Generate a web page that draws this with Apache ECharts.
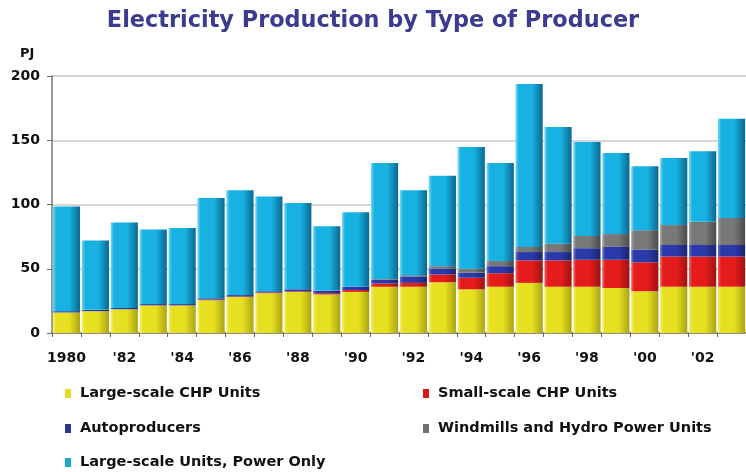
<!DOCTYPE html>
<html>
<head>
<meta charset="utf-8">
<script src="https://cdn.jsdelivr.net/npm/echarts@6/dist/echarts.min.js"></script>
<style>
  html, body { margin: 0; padding: 0; background: #fff; }
  #chart { width: 746px; height: 472px; }
</style>
</head>
<body>
<div id="chart"></div>
<script>
// Electricity production by producer type, PJ, 1980-2003
const years = ['1980','1981','1982','1983','1984','1985','1986','1987','1988','1989','1990','1991',
               '1992','1993','1994','1995','1996','1997','1998','1999','2000','2001','2002','2003'];
const yearLabels = ['1980','',"'82",'',"'84",'',"'86",'',"'88",'',"'90",'',
                    "'92",'',"'94",'',"'96",'',"'98",'',"'00",'',"'02",''];

const largeChp   = [16, 17, 18.5, 21.5, 21.5, 25.5, 28, 31, 32, 30, 32, 36, 36, 39.5, 34, 36, 39, 36, 36, 35, 32.5, 36, 36, 36];
const smallChp   = [0, 0, 0, 0, 0, 0.5, 0.5, 0.5, 0.5, 1, 1.5, 2.5, 3, 6, 9, 10.5, 17.5, 20.5, 21, 22, 22.5, 23.5, 23.5, 23.5];
const autoProd   = [1, 1, 1, 1, 1, 1, 1, 1, 1.5, 2, 2.5, 3, 5, 4.5, 4, 5.5, 6.5, 6.5, 9, 10, 10, 9, 9, 9];
const windHydro  = [0, 0, 0, 0, 0, 0, 0, 0, 0, 0, 0, 0.5, 1, 2, 3, 4, 4, 6.5, 9.5, 10, 15, 15.5, 18, 21];
const powerOnly  = [81.5, 54, 66.5, 58, 59.2, 78, 81.5, 73.8, 67.2, 50, 57.9, 90.3, 66, 70.4, 94.7, 76.3, 126.8, 90.8, 73.1, 63, 49.7, 52.2, 54.9, 77.3];

const yTicks = { min: 0, max: 200, step: 50 };

const names = {
  largeChp: 'Large-scale CHP Units',
  smallChp: 'Small-scale CHP Units',
  autoProd: 'Autoproducers',
  windHydro: 'Windmills and Hydro Power Units',
  powerOnly: 'Large-scale Units, Power Only'
};

const FONT = '"DejaVu Sans", Arial, sans-serif';

// shaded bar fill: light left edge, bright body, darker right edge
function shade(light, base, dark) {
  return new echarts.graphic.LinearGradient(0, 0, 1, 0, [
    { offset: 0, color: light },
    { offset: 0.12, color: base },
    { offset: 0.6, color: base },
    { offset: 1, color: dark }
  ]);
}

const palette = {
  largeChp: ['#f4f070', '#e6e020', '#a9a414', '#e2dc20'],
  smallChp: ['#f06060', '#e41c1c', '#a01212', '#d81818'],
  autoProd: ['#6070d0', '#2a3aaa', '#1a2470', '#2a3490'],
  windHydro: ['#a0a0a0', '#787878', '#4a4a4a', '#707070'],
  powerOnly: ['#7ad8f4', '#18b2e2', '#0a6890', '#18a8c8']
};

function barSeries(key, data) {
  const p = palette[key];
  return {
    name: names[key],
    type: 'bar',
    stack: 'total',
    data: data,
    barCategoryGap: '6%',
    itemStyle: { color: shade(p[0], p[1], p[2]) }
  };
}

// one legend entry per slot, laid out in two columns
function legendAt(key, iconX, centerY) {
  return {
    left: iconX - 5,
    top: centerY - 12,
    itemWidth: 6,
    itemHeight: 9,
    icon: 'rect',
    textStyle: { fontFamily: FONT, fontWeight: 'bold', fontSize: 14.5, color: '#111', lineHeight: 14, padding: [0, 0, 0, 4] },
    data: [{ name: names[key], itemStyle: { color: palette[key][3] } }]
  };
}

const chart = echarts.init(document.getElementById('chart'), null, { renderer: 'canvas' });
chart.setOption({
  animation: false,
  backgroundColor: '#ffffff',
  title: {
    text: 'Electricity Production by Type of Producer',
    left: 'center',
    top: 5,
    textStyle: { fontFamily: FONT, fontWeight: 'bold', fontSize: 22.4, color: '#3b3b8f' }
  },
  graphic: [{
    type: 'text',
    left: 20,
    top: 47,
    style: { text: 'PJ', font: 'bold 13px "DejaVu Sans", Arial, sans-serif', fill: '#111' }
  }],
  legend: [
    legendAt('largeChp', 65, 393),
    legendAt('autoProd', 65, 428),
    legendAt('powerOnly', 65, 462),
    legendAt('smallChp', 423, 393),
    legendAt('windHydro', 423, 428)
  ],
  grid: { left: 52, right: -5, top: 76, bottom: 139, containLabel: false },
  xAxis: {
    type: 'category',
    data: years,
    axisLine: { lineStyle: { color: '#777', width: 1.5 } },
    axisTick: { show: true, interval: 0, length: 4, lineStyle: { color: '#666' } },
    axisLabel: {
      interval: 0,
      margin: 18,
      fontFamily: FONT,
      fontWeight: 'bold',
      fontSize: 14,
      color: '#111',
      formatter: (v, i) => yearLabels[i]
    }
  },
  yAxis: {
    type: 'value',
    min: yTicks.min,
    max: yTicks.max,
    interval: yTicks.step,
    axisLine: { show: true, lineStyle: { color: '#777', width: 1.5 } },
    axisTick: { show: true, length: 5, lineStyle: { color: '#666' } },
    splitLine: { lineStyle: { color: '#c8c8c8', width: 1.5 } },
    axisLabel: {
      margin: 12,
      fontFamily: FONT,
      fontWeight: 'bold',
      fontSize: 14,
      color: '#111'
    }
  },
  series: [
    barSeries('largeChp', largeChp),
    barSeries('smallChp', smallChp),
    barSeries('autoProd', autoProd),
    barSeries('windHydro', windHydro),
    barSeries('powerOnly', powerOnly)
  ]
});
</script>
</body>
</html>
